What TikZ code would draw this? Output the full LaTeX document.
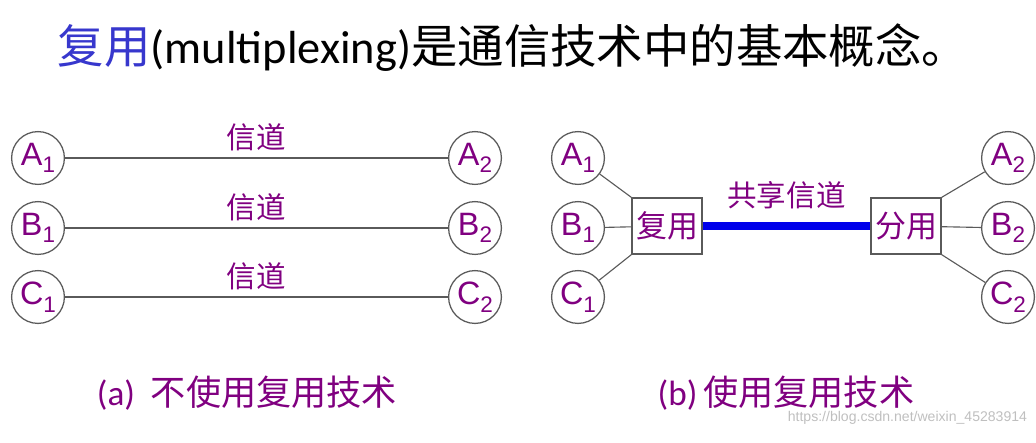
\documentclass[tikz,border=0pt]{standalone}
\usepackage{fontspec}
\setmainfont{Carlito}
\newfontfamily\cjk{Noto Sans CJK SC}
\newfontfamily\arial{Liberation Sans}
\usetikzlibrary{positioning}
\definecolor{lbl}{RGB}{128,0,128}
\definecolor{edge}{RGB}{90,90,90}
\definecolor{muxblue}{RGB}{55,55,205}
\definecolor{chan}{RGB}{0,0,235}
% station label: letter with a lowered index
\newcommand{\nm}[2]{#1\raisebox{-0.45ex}{\fontsize{16}{16}\selectfont #2}}

\begin{document}
\begin{tikzpicture}[x=0.025cm,y=-0.025cm,
	station/.style={circle,draw=edge,line width=0.9pt,minimum size=1.32cm,inner sep=0pt,
		text=lbl,font=\arial\fontsize{23}{23}\selectfont},
	muxbox/.style={draw=edge,line width=0.9pt,minimum width=1.75cm,minimum height=1.4cm,
		inner sep=0pt,text=lbl,font=\cjk\fontsize{22}{22}\selectfont},
	link/.style={draw=edge,line width=0.8pt},
	chanlbl/.style={text=lbl,font=\cjk\fontsize{21}{21}\selectfont},
	caption/.style={text=lbl,font=\fontsize{25}{25}\selectfont}]
	\useasboundingbox (0,0) rectangle (1036,442);
	% title
	\node (title) at (513,48) {\fontsize{33}{33}\selectfont{\cjk\color{muxblue}复用}(multiplexing)\cjk 是通信技术中的基本概念。};

	% (a) one channel per pair
	\foreach \r/\y in {A/158,B/228,C/297}{
		\node[station] (l\r1) at (38,\y) {\nm{\r}{1}};
		\node[station] (l\r2) at (475,\y) {\nm{\r}{2}};
		\draw[link] (l\r1) -- (l\r2) node[midway,above=1pt,chanlbl] {信道};
	}
	\node[caption] (capa) at (247,393) {(a)\ \ {\cjk 不使用复用技术}};

	% (b) shared channel
	\node[muxbox] (mux) at (667,226) {复用};
	\node[muxbox] (demux) at (906,226) {分用};
	\foreach \r/\y in {A/158,B/228,C/297}{
		\node[station] (r\r1) at (578,\y) {\nm{\r}{1}};
		\node[station] (r\r2) at (1008,\y) {\nm{\r}{2}};
	}
	\draw[link] (rA1) -- (mux.north west);
	\draw[link] (rB1) -- (mux);
	\draw[link] (rC1) -- (mux.south west);
	\draw[link] (rA2) -- (demux.north east);
	\draw[link] (rB2) -- (demux);
	\draw[link] (rC2) -- (demux.south east);
	\draw[chan,line width=5pt] (mux) -- (demux) node[midway,above=6pt,chanlbl] {共享信道};
	\node[caption] (capb) at (786,393) {(b)\,{\cjk 使用复用技术}};

	\node[anchor=east,text=black!25,font=\arial\fontsize{10}{10}\selectfont] (mark) at (1032,418) {https://blog.csdn.net/weixin\_45283914};
\end{tikzpicture}
\end{document}
